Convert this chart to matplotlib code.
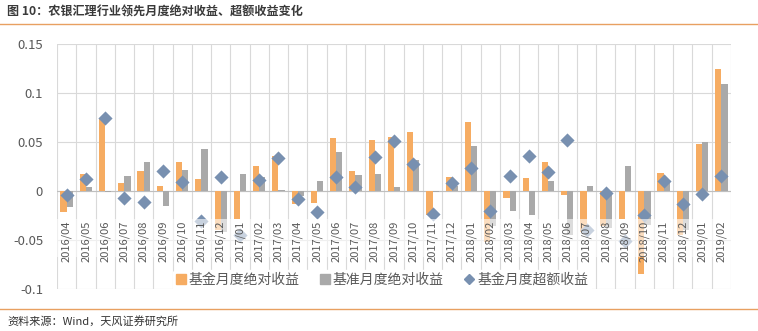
import matplotlib
matplotlib.use("Agg")
from matplotlib import pyplot as plt
from matplotlib.lines import Line2D
from matplotlib.patches import Patch
import numpy as np

plt.rcParams['font.family'] = ['Noto Sans CJK SC', 'DejaVu Sans']

months = ["2016/04", "2016/05", "2016/06", "2016/07", "2016/08", "2016/09", "2016/10", "2016/11", "2016/12",
          "2017/01", "2017/02", "2017/03", "2017/04", "2017/05", "2017/06", "2017/07", "2017/08", "2017/09",
          "2017/10", "2017/11", "2017/12",
          "2018/01", "2018/02", "2018/03", "2018/04", "2018/05", "2018/06", "2018/07", "2018/08", "2018/09",
          "2018/10", "2018/11", "2018/12",
          "2019/01", "2019/02"]

fund_abs = [-0.021, 0.017, 0.073, 0.008, 0.020, 0.005, 0.030, 0.012, -0.040,
            -0.029, 0.025, 0.036, -0.013, -0.012, 0.054, 0.020, 0.052, 0.055, 0.060, -0.025, 0.014,
            0.070, -0.052, -0.007, 0.013, 0.030, -0.004, -0.042, -0.036, -0.029, -0.085, 0.018, -0.045,
            0.048, 0.124]

bench_abs = [-0.016, 0.004, -0.001, 0.015, 0.030, -0.015, 0.021, 0.043, -0.042,
             0.017, 0.014, 0.001, -0.005, 0.010, 0.040, 0.016, 0.017, 0.004, 0.032, -0.001, 0.005,
             0.046, -0.036, -0.020, -0.024, 0.010, -0.045, 0.005, -0.038, 0.025, -0.035, 0.008, -0.040,
             0.050, 0.109]

excess = [-0.004, 0.012, 0.074, -0.007, -0.011, 0.020, 0.009, -0.031, 0.014,
          -0.045, 0.011, 0.034, -0.008, -0.021, 0.014, 0.004, 0.035, 0.051, 0.028, -0.023, 0.008,
          0.023, -0.020, 0.015, 0.036, 0.019, 0.052, -0.040, -0.002, -0.051, -0.024, 0.010, -0.013,
          -0.003, 0.015]

series_names = ["基金月度绝对收益", "基准月度绝对收益", "基金月度超额收益"]
yticks = [-0.1, -0.05, 0, 0.05, 0.1, 0.15]
ytick_labels = ["-0.1", "-0.05", "0", "0.05", "0.1", "0.15"]

ORANGE = "#F6AC62"
GRAY = "#A9A9A9"
BLUE = "#7890B0"
GRID = "#D9D9D9"
TXT = "#595959"

W, H = 758, 331
fig = plt.figure(figsize=(W / 100, H / 100), dpi=100)

ax = fig.add_axes([57 / W, 1 - 289 / H, (731 - 57) / W, (289 - 44) / H])
x = np.arange(len(months))
bw = 0.32

ax.bar(x - bw / 2, fund_abs, width=bw, color=ORANGE, zorder=2)
ax.bar(x + bw / 2, bench_abs, width=bw, color=GRAY, zorder=2)
ax.scatter(x, excess, marker="D", s=52, color=BLUE, zorder=3, linewidths=0)

ax.set_xlim(-0.5, len(months) - 0.5)
ax.set_ylim(-0.1, 0.15)
ax.set_yticks(yticks)
ax.set_yticklabels(ytick_labels, fontsize=9.5, color=TXT)
ax.tick_params(axis="y", length=0, pad=10)
ax.set_xticks([])

for yv in yticks:
    ax.axhline(yv, color=GRID, lw=0.8, zorder=0)
for b in np.arange(-0.5, len(months), 1):
    ax.axvline(b, color=GRID, lw=0.8, zorder=0)
ax.axhline(0, color="#BFBFBF", lw=0.8, zorder=1)
for s in ax.spines.values():
    s.set_visible(False)

# label band washes out whatever sits behind the month labels
ax.axhspan(-0.067, -0.029, color="white", alpha=0.6, lw=0, zorder=4)
for i, m in enumerate(months):
    ax.text(i, -0.0305, m, rotation=90, ha="center", va="top", fontsize=8, color=TXT, zorder=5)

handles = [Patch(color=ORANGE), Patch(color=GRAY),
           Line2D([], [], marker="D", color=BLUE, lw=0, markersize=5)]
leg = fig.legend(handles, series_names, loc="center", bbox_to_anchor=(382 / W, 1 - 280 / H),
                 ncol=3, frameon=True, fontsize=10, handlelength=0.7, handleheight=0.7,
                 handletextpad=0.2, columnspacing=1.5, borderpad=0.2)
leg.get_frame().set_facecolor("white")
leg.get_frame().set_edgecolor("white")
leg.get_frame().set_alpha(1)
for t in leg.get_texts():
    t.set_color(TXT)

fig.text(7 / W, 1 - 12 / H, "图 10：农银汇理行业领先月度绝对收益、超额收益变化", fontsize=8.7,
         fontweight="bold", color="#3A3A3A", va="center", ha="left")
fig.add_artist(Line2D([0, 1], [1 - 24 / H, 1 - 24 / H], color="#E8A061", lw=1.0))
fig.add_artist(Line2D([0, 1], [1 - 309 / H, 1 - 309 / H], color="#E8A061", lw=1.0))
fig.text(7 / W, 1 - 321 / H, "资料来源：Wind，天风证券研究所", fontsize=8, color="#333333",
         va="center", ha="left")

fig.savefig("out.png", dpi=100, facecolor="white")
